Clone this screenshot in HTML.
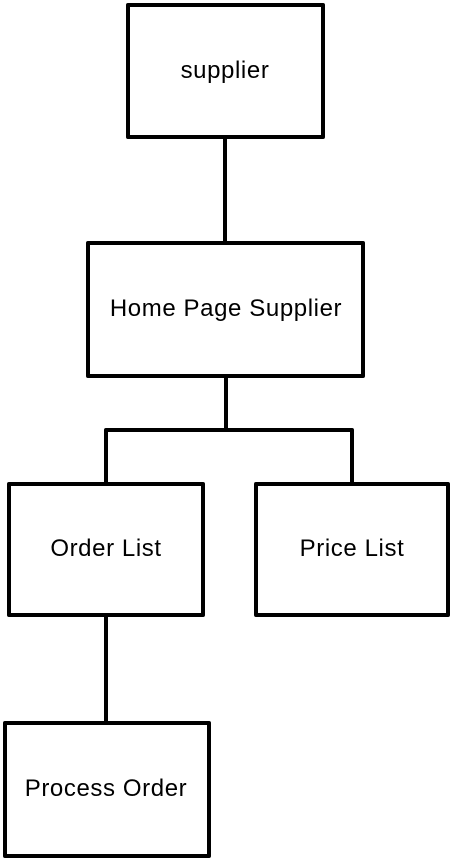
<!DOCTYPE html>
<html><head><meta charset="utf-8"><style>
body{margin:0;background:#fff;width:452px;height:860px;overflow:hidden}
svg{display:block}
text{font-family:"Liberation Sans",sans-serif;font-size:24px;letter-spacing:0.6px;fill:#000}
</style></head><body>
<svg width="452" height="860" viewBox="0 0 452 860">
<g fill="none" stroke="#000" stroke-width="4" stroke-linejoin="round">
<rect x="128" y="5" width="195" height="132"/>
<rect x="88" y="243" width="275" height="133"/>
<rect x="9" y="484" width="194" height="131"/>
<rect x="256" y="484" width="192" height="131"/>
<rect x="5" y="723" width="204" height="133"/>
<line x1="225" y1="137" x2="225" y2="243"/>
<line x1="226" y1="376" x2="226" y2="430"/>
<polyline points="106,484 106,430 352,430 352,484"/>
<line x1="106" y1="615" x2="106" y2="723"/>
</g>
<g text-anchor="middle">
<text x="225" y="78">supplier</text>
<text x="226" y="316">Home Page Supplier</text>
<text x="106" y="556">Order List</text>
<text x="352" y="556">Price List</text>
<text x="106" y="796">Process Order</text>
</g>
</svg>
</body></html>
